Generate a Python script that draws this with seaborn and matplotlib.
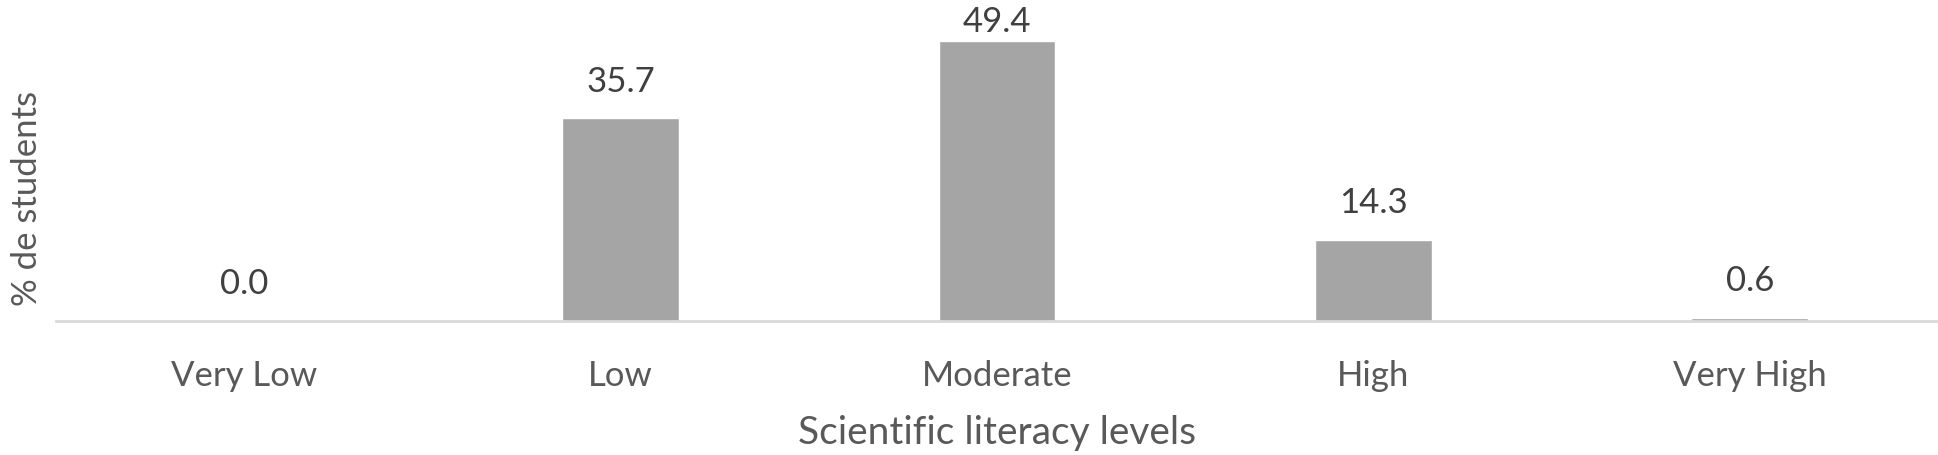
import matplotlib
matplotlib.use("Agg")
import matplotlib.pyplot as plt
import seaborn as sns
import pandas as pd

levels = ["Very Low", "Low", "Moderate", "High", "Very High"]
pct = [0.0, 35.7, 49.4, 14.3, 0.6]

df = pd.DataFrame({"level": levels, "pct": pct})

sns.set_style("white")
plt.rcParams['font.family'] = ['Lato', 'DejaVu Sans']

fig = plt.figure(figsize=(19.38, 4.55), dpi=100)
ax = fig.add_axes([56 / 1938, 134 / 455, 1 - 56 / 1938, 312 / 455])

sns.barplot(data=df, x="level", y="pct", color="#A5A5A5", width=0.31,
            saturation=1, ax=ax)

ax.set_ylim(0, 55)
ax.set_xlim(-0.5, 4.5)

# value labels above bars
for i, v in enumerate(pct):
    y = min(v + 6.5, 52.7)
    ax.text(i, y, f"{v:.1f}", ha="center", va="center", fontsize=25,
            color="#404040", clip_on=False)

ax.set_yticks([])
ax.tick_params(axis="x", length=0, pad=28, labelsize=25, labelcolor="#595959")
for s in ["top", "right", "left"]:
    ax.spines[s].set_visible(False)
ax.spines["bottom"].set_color("#D9D9D9")
ax.spines["bottom"].set_linewidth(2)

ax.set_xlabel("Scientific literacy levels", fontsize=28, color="#595959")
ax.xaxis.set_label_coords(0.5, -0.359)
ax.xaxis.label.set_va("center")
ax.set_ylabel("% de students", fontsize=25, color="#595959")
ax.yaxis.set_label_coords(-0.0154, 0.394)
ax.yaxis.label.set_va("center")

fig.savefig("out.png", dpi=100)
